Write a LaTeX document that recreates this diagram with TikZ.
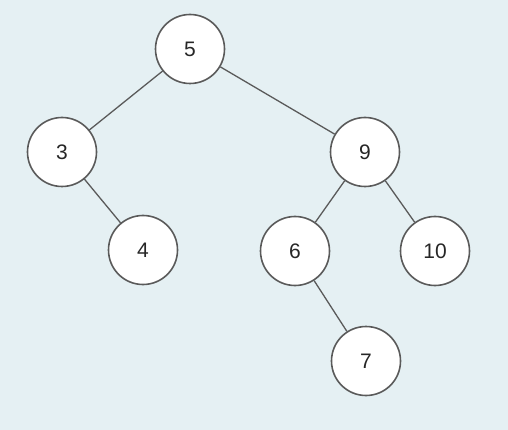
\documentclass[tikz,border=0pt]{standalone}
\usepackage{fontspec}
\setmainfont{Liberation Sans}
\definecolor{bgc}{HTML}{E5F0F3}
\definecolor{edgec}{HTML}{5A5A5A}
\begin{document}
\begin{tikzpicture}[x=1pt,y=-1pt,
  tnode/.style={circle,draw=edgec,line width=1.6pt,fill=white,minimum size=69pt,inner sep=0pt,text=black!85,font=\fontsize{21}{25}\selectfont},
  tedge/.style={draw=edgec,line width=1.3pt}]
\fill[bgc] (0,0) rectangle (508,430);
\useasboundingbox (0,0) rectangle (508,430);
\node[tnode] (n5) at (190,49) {5};
\node[tnode] (n3) at (62,152) {3};
\node[tnode] (n9) at (365,152) {9};
\node[tnode] (n4) at (143,250) {4};
\node[tnode] (n6) at (295,251) {6};
\node[tnode] (n10) at (435,251) {10};
\node[tnode] (n7) at (366,361) {7};
\draw[tedge] (n5) -- (n3);
\draw[tedge] (n5) -- (n9);
\draw[tedge] (n3) -- (n4);
\draw[tedge] (n9) -- (n6);
\draw[tedge] (n9) -- (n10);
\draw[tedge] (n6) -- (n7);
\end{tikzpicture}
\end{document}
